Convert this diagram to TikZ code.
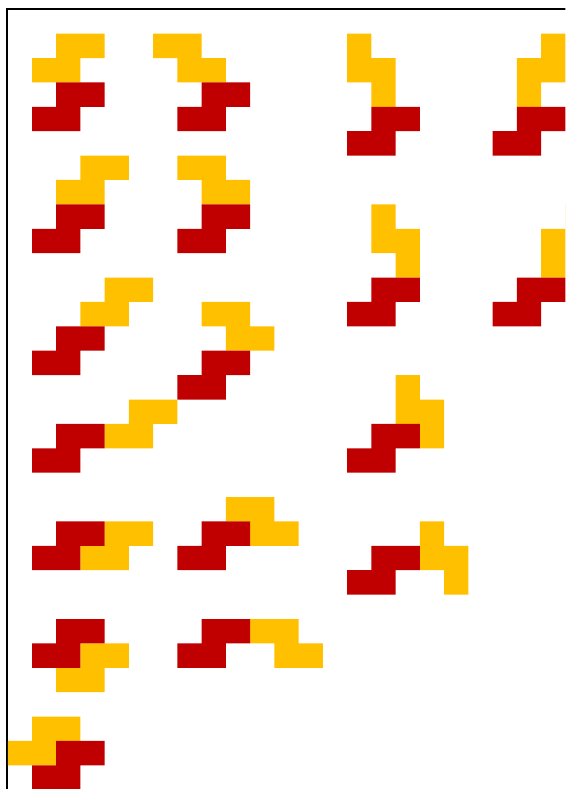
\documentclass[tikz,border=0pt]{standalone}
\usepackage{xcolor}
\usepackage{tikz}
\definecolor{gold}{HTML}{FFC000}
\definecolor{brick}{HTML}{C00000}

\begin{document}
\begin{tikzpicture}[
  x=0.5cm, y=-0.503cm,
  ytile/.style={fill=gold},
  rtile/.style={fill=brick},
  frame/.style={draw=black, line width=1.2pt}
]
\clip (-0.32,-0.38) rectangle (23.0,31.97);
\draw[frame] (-0.05,32.5) -- (-0.05,-0.025) -- (23.5,-0.025);

\fill[ytile] (2,1) rectangle ++(2,1) (1,2) rectangle ++(2,1);
\fill[rtile] (2,3) rectangle ++(2,1) (1,4) rectangle ++(2,1);
\fill[ytile] (6,1) rectangle ++(2,1) (7,2) rectangle ++(2,1);
\fill[rtile] (8,3) rectangle ++(2,1) (7,4) rectangle ++(2,1);
\fill[ytile] (14,1) rectangle ++(1,2) (15,2) rectangle ++(1,2);
\fill[rtile] (15,4) rectangle ++(2,1) (14,5) rectangle ++(2,1);
\fill[ytile] (22,1) rectangle ++(1,2) (21,2) rectangle ++(1,2);
\fill[rtile] (21,4) rectangle ++(2,1) (20,5) rectangle ++(2,1);

\fill[ytile] (3,6) rectangle ++(2,1) (2,7) rectangle ++(2,1);
\fill[rtile] (2,8) rectangle ++(2,1) (1,9) rectangle ++(2,1);
\fill[ytile] (7,6) rectangle ++(2,1) (8,7) rectangle ++(2,1);
\fill[rtile] (8,8) rectangle ++(2,1) (7,9) rectangle ++(2,1);
\fill[ytile] (15,8) rectangle ++(1,2) (16,9) rectangle ++(1,2);
\fill[rtile] (15,11) rectangle ++(2,1) (14,12) rectangle ++(2,1);
\fill[ytile] (23,8) rectangle ++(1,2) (22,9) rectangle ++(1,2);
\fill[rtile] (21,11) rectangle ++(2,1) (20,12) rectangle ++(2,1);

\fill[ytile] (4,11) rectangle ++(2,1) (3,12) rectangle ++(2,1);
\fill[rtile] (2,13) rectangle ++(2,1) (1,14) rectangle ++(2,1);
\fill[ytile] (8,12) rectangle ++(2,1) (9,13) rectangle ++(2,1);
\fill[rtile] (8,14) rectangle ++(2,1) (7,15) rectangle ++(2,1);
\fill[ytile] (16,15) rectangle ++(1,2) (17,16) rectangle ++(1,2);
\fill[rtile] (15,17) rectangle ++(2,1) (14,18) rectangle ++(2,1);

\fill[ytile] (5,16) rectangle ++(2,1) (4,17) rectangle ++(2,1);
\fill[rtile] (2,17) rectangle ++(2,1) (1,18) rectangle ++(2,1);
\fill[ytile] (9,20) rectangle ++(2,1) (10,21) rectangle ++(2,1);
\fill[rtile] (8,21) rectangle ++(2,1) (7,22) rectangle ++(2,1);
\fill[ytile] (4,21) rectangle ++(2,1) (3,22) rectangle ++(2,1);
\fill[rtile] (2,21) rectangle ++(2,1) (1,22) rectangle ++(2,1);
\fill[ytile] (17,21) rectangle ++(1,2) (18,22) rectangle ++(1,2);
\fill[rtile] (15,22) rectangle ++(2,1) (14,23) rectangle ++(2,1);

\fill[ytile] (3,26) rectangle ++(2,1) (2,27) rectangle ++(2,1);
\fill[rtile] (2,25) rectangle ++(2,1) (1,26) rectangle ++(2,1);
\fill[ytile] (10,25) rectangle ++(2,1) (11,26) rectangle ++(2,1);
\fill[rtile] (8,25) rectangle ++(2,1) (7,26) rectangle ++(2,1);
\fill[ytile] (1,29) rectangle ++(2,1) (0,30) rectangle ++(2,1);
\fill[rtile] (2,30) rectangle ++(2,1) (1,31) rectangle ++(2,1);
\end{tikzpicture}
\end{document}
